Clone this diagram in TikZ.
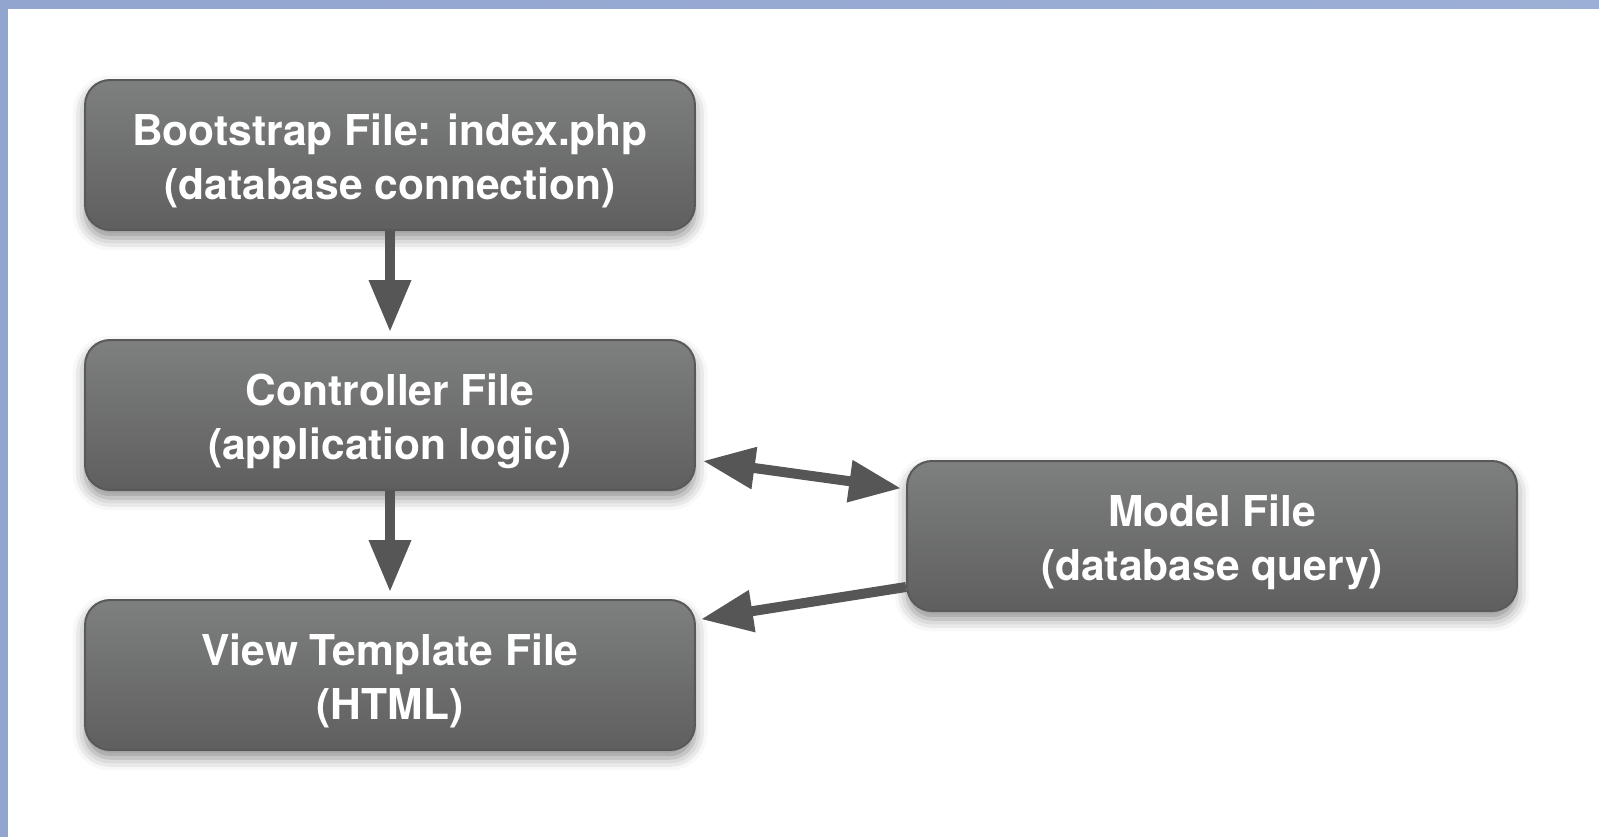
\documentclass[tikz,border=0pt]{standalone}
\usepackage{fontspec}
\setmainfont{TeX Gyre Heros}
\usetikzlibrary{arrows.meta,positioning,calc,shadows.blur}

\definecolor{boxtop}{HTML}{7E807F}
\definecolor{boxbot}{HTML}{5E5F5E}
\definecolor{boxedge}{HTML}{585958}
\definecolor{arrowgray}{HTML}{555655}
\definecolor{frameblue}{HTML}{92A5CF}
\definecolor{framelight}{HTML}{C6D7F0}

% two-line box text, pushed a little down
\newcommand{\boxlines}[2]{\rule{0pt}{25pt}#1\\#2}

\tikzset{
  filebox/.style={draw=boxedge, line width=0.04cm, rounded corners=0.5cm,
    top color=boxtop, bottom color=boxbot,
    minimum width=12.2cm, minimum height=3cm,
    text=white, align=center, font=\fontsize{24.2}{30.5}\selectfont\bfseries,
    blur shadow={shadow xshift=0cm, shadow yshift=-0.16cm,
      shadow blur radius=0.25cm, shadow opacity=45}},
  flow/.style={draw=arrowgray, line width=0.2cm, shorten >=0.14cm},
  >={Triangle[length=1.04cm,width=0.8cm]}
}

\begin{document}
\begin{tikzpicture}[x=0.02cm,y=-0.02cm]
  \useasboundingbox (0,0) rectangle (1599,837);
  % Frame strips
  \fill[frameblue] (0,0) rectangle (8,837);
  \shade[left color=frameblue, middle color=framelight, right color=frameblue!80!framelight]
    (0,0) rectangle (1599,9);
  % File boxes
  \node[filebox] (boot) at (390,155) {\boxlines{Bootstrap File: index.php}{(database connection)}};
  \node[filebox] (ctrl) at (390,415) {\boxlines{Controller File}{(application logic)}};
  \node[filebox] (view) at (390,675) {\boxlines{View Template File}{(HTML)}};
  \node[filebox] (model) at (1212,536) {\boxlines{Model File}{(database query)}};
  % Request flow
  \draw[flow,->] (boot) -- (ctrl);
  \draw[flow,->] (ctrl) -- (view);
  \draw[flow,<->,shorten <=0.14cm,shorten >=0.1cm]
    ([yshift=-0.9cm]ctrl.east) -- ([yshift=0.94cm]model.west);
  \draw[flow,->,shorten >=0.1cm] ([yshift=-1.02cm]model.west) -- ([yshift=1.1cm]view.east);
\end{tikzpicture}
\end{document}
